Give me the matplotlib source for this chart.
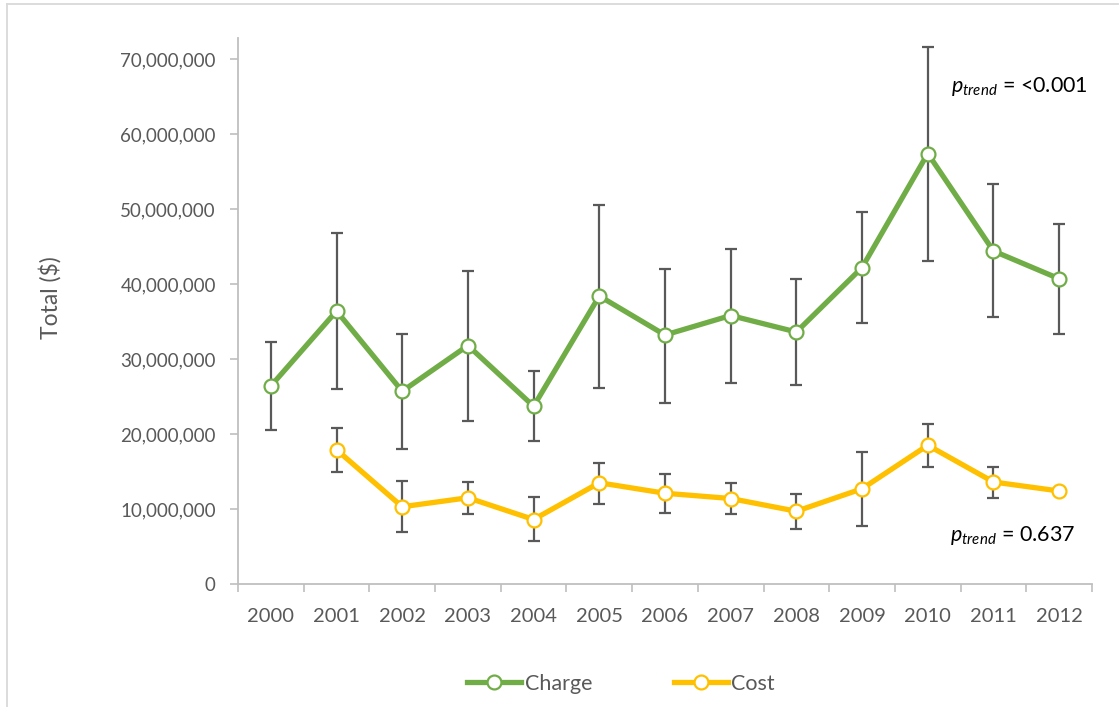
import matplotlib
matplotlib.use("Agg")
import matplotlib.pyplot as plt
import numpy as np
from matplotlib.lines import Line2D
from matplotlib.ticker import FuncFormatter, MultipleLocator

plt.rcParams['font.family'] = ['Lato', 'DejaVu Sans']
plt.rcParams['mathtext.fontset'] = 'custom'
plt.rcParams['mathtext.rm'] = 'Lato'
plt.rcParams['mathtext.it'] = 'Lato:italic'

years = ['2000', '2001', '2002', '2003', '2004', '2005', '2006',
         '2007', '2008', '2009', '2010', '2011', '2012']

# totals in millions of dollars, scaled when plotted
charge = [26.4, 36.4, 25.7, 31.8, 23.7, 38.4, 33.2, 35.8, 33.6, 42.2, 57.4, 44.4, 40.7]
charge_hi = [32.3, 46.8, 33.4, 41.7, 28.4, 50.5, 42.0, 44.7, 40.7, 49.6, 71.6, 53.3, 48.0]
charge_lo = [20.6, 26.0, 18.0, 21.7, 19.1, 26.2, 24.2, 26.8, 26.6, 34.8, 43.1, 35.6, 33.4]

cost = [np.nan, 17.9, 10.3, 11.5, 8.6, 13.5, 12.1, 11.4, 9.7, 12.7, 18.5, 13.6, 12.4]
cost_hi = [np.nan, 20.8, 13.7, 13.6, 11.6, 16.2, 14.7, 13.5, 12.0, 17.6, 21.4, 15.6, np.nan]
cost_lo = [np.nan, 14.9, 6.9, 9.4, 5.7, 10.7, 9.5, 9.3, 7.4, 7.8, 15.6, 11.5, np.nan]

GREEN = '#70AD47'
GOLD = '#FFC000'
GRID = '#BFBFBF'
TEXT = '#595959'

fig = plt.figure(figsize=(11.19, 7.07), dpi=100)
ax = fig.add_axes([238 / 1119, 1 - 584 / 707, (1092 - 238) / 1119, (584 - 38) / 707])

x = np.arange(len(years))


def draw_series(vals, hi, lo, color):
    v = np.array(vals) * 1e6
    h = np.array(hi) * 1e6
    l = np.array(lo) * 1e6
    ax.plot(x, v, color=color, lw=3.8, zorder=2, solid_joinstyle='round')
    ok = ~np.isnan(h)
    ax.errorbar(x[ok], v[ok], yerr=[v[ok] - l[ok], h[ok] - v[ok]], fmt='none',
                ecolor=TEXT, elinewidth=1.6, capsize=4.3, capthick=1.6, zorder=3)
    ax.plot(x, v, ls='none', marker='o', ms=10, mfc='white', mec=color, mew=1.6, zorder=4)


draw_series(charge, charge_hi, charge_lo, GREEN)
draw_series(cost, cost_hi, cost_lo, GOLD)

ax.set_xlim(-0.5, len(years) - 0.5)
ax.set_ylim(0, 72.8e6)
ax.yaxis.set_major_locator(MultipleLocator(10e6))
ax.yaxis.set_major_formatter(FuncFormatter(lambda v, p: f'{v:,.0f}'))
ax.set_xticks(x)
ax.set_xticklabels(years)
ax.set_xticks(np.arange(-0.5, len(years), 1.0), minor=True)
ax.tick_params(axis='x', which='major', length=0, pad=17, labelsize=14.5, labelcolor=TEXT)
ax.tick_params(axis='x', which='minor', length=6, width=1.2, color=GRID)
ax.tick_params(axis='y', length=6, width=1.2, color=GRID, pad=10, labelsize=13.5, labelcolor=TEXT)

for side in ['top', 'right']:
    ax.spines[side].set_visible(False)
for side in ['left', 'bottom']:
    ax.spines[side].set_color(GRID)
    ax.spines[side].set_linewidth(1.3)

ax.set_ylabel('Total ($)', fontsize=16.5, color=TEXT)
ax.yaxis.set_label_coords(-0.207, 0.524)

ax.text(12.43, 65.6e6, r'$p_{trend}$ = <0.001', ha='right', va='baseline', fontsize=15.5, color='black')
ax.text(12.25, 5.7e6, r'$p_{trend}$ = 0.637', ha='right', va='baseline', fontsize=15.5, color='black')

handles = [
    Line2D([], [], color=GREEN, lw=3.8, marker='o', ms=10, mfc='white', mec=GREEN, mew=1.6),
    Line2D([], [], color=GOLD, lw=3.8, marker='o', ms=10, mfc='white', mec=GOLD, mew=1.6),
]
fig.legend(handles, ['Charge', 'Cost'], loc='center', bbox_to_anchor=(621 / 1119, 1 - 684 / 707),
           ncol=2, frameon=False, fontsize=15.5, handlelength=2.5, handletextpad=0.15,
           columnspacing=3.8, labelcolor=TEXT)

# light frame around the chart area
fig.add_artist(Line2D([7 / 1119, 1118 / 1119], [1 - 4 / 707, 1 - 4 / 707],
                      transform=fig.transFigure, color='#D9D9D9', lw=1.3))
fig.add_artist(Line2D([7 / 1119, 7 / 1119], [0, 1 - 4 / 707],
                      transform=fig.transFigure, color='#D9D9D9', lw=1.3))

fig.savefig('out.png', dpi=100)
